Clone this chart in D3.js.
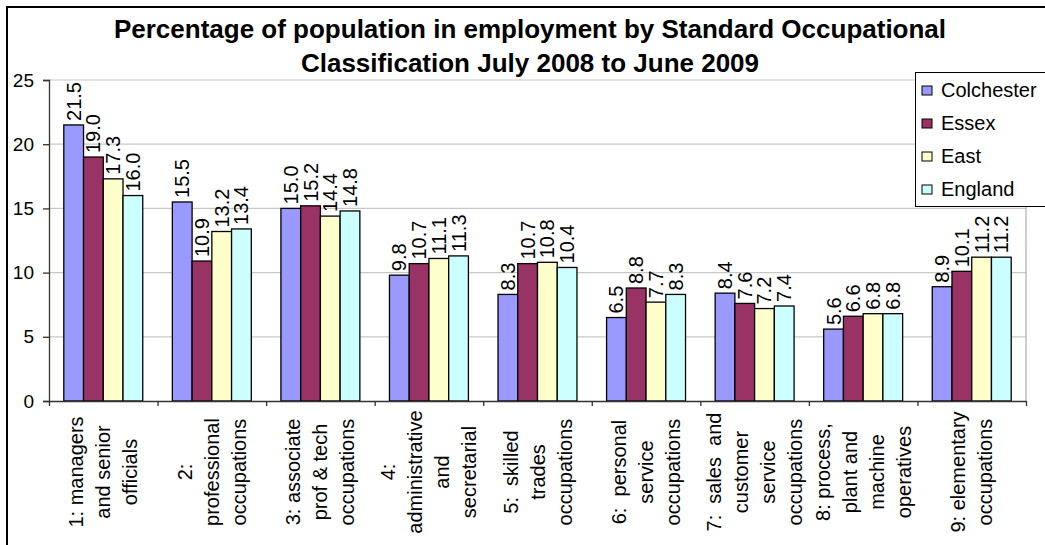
<!DOCTYPE html>
<html>
<head>
<meta charset="utf-8">
<script src="https://cdn.jsdelivr.net/npm/d3@7"></script>
<style>
  html, body { margin: 0; padding: 0; background: #fff; }
  svg { display: block; font-family: Arial, "Liberation Sans", sans-serif; }
</style>
</head>
<body>
<svg id="chart" width="1045" height="545"></svg>
<script>
// Occupational groups (line breaks marked with "|")
const categories = [
  "1: managers|and senior|officials",
  "2:|professional|occupations",
  "3: associate|prof & tech|occupations",
  "4:|administrative|and|secretarial",
  "5:  skilled|trades|occupations",
  "6:  personal|service|occupations",
  "7:  sales  and|customer|service|occupations",
  "8: process,|plant and|machine|operatives",
  "9: elementary|occupations"
];
const seriesNames = ["Colchester", "Essex", "East", "England"];
const seriesColors = ["#9999FF", "#993366", "#FFFFCC", "#CCFFFF"];
const colchester = [21.5, 15.5, 15.0, 9.8, 8.3, 6.5, 8.4, 5.6, 8.9];
const essex      = [19.0, 10.9, 15.2, 10.7, 10.7, 8.8, 7.6, 6.6, 10.1];
const east       = [17.3, 13.2, 14.4, 11.1, 10.8, 7.7, 7.2, 6.8, 11.2];
const england    = [16.0, 13.4, 14.8, 11.3, 10.4, 8.3, 7.4, 6.8, 11.2];
const yTicks = [0, 5, 10, 15, 20, 25];
const titleLines = [
  "Percentage of population in employment by Standard Occupational",
  "Classification July 2008 to June 2009"
];

const seriesValues = [colchester, essex, east, england];
const rows = categories.map((c, i) => ({
  cat: c,
  values: seriesNames.map((s, j) => ({ series: s, color: seriesColors[j], value: seriesValues[j][i] }))
}));

const svg = d3.select("#chart");
const plot = { left: 49, right: 1026, top: 80, bottom: 401 };

// outer chart frame
svg.append("rect")
  .attr("x", 7).attr("y", 7).attr("width", 1080).attr("height", 580)
  .attr("fill", "#fff").attr("stroke", "#000").attr("stroke-width", 2);

// title
svg.append("g").selectAll("text").data(titleLines).join("text")
  .attr("x", 530)
  .attr("y", (d, i) => 38 + i * 34)
  .attr("text-anchor", "middle")
  .attr("font-weight", "bold")
  .attr("font-size", 26)
  .attr("fill", "#000")
  .text(d => d);

const y = d3.scaleLinear().domain([0, 25]).range([plot.bottom, plot.top]);
const x0 = d3.scaleBand().domain(categories).range([plot.left, plot.right]).padding(0);
const bw = x0.bandwidth();
const gapHalf = bw * 0.75 / 5.5;
const x1 = d3.scaleBand().domain(seriesNames).range([gapHalf, bw - gapHalf]).padding(0);

// gridlines
svg.append("g").selectAll("line").data(yTicks.filter(t => t > 0)).join("line")
  .attr("x1", plot.left).attr("x2", plot.right)
  .attr("y1", d => y(d)).attr("y2", d => y(d))
  .attr("stroke", "#c8c8c8").attr("stroke-width", 1.2);

// right border of plot area
svg.append("line")
  .attr("x1", plot.right).attr("x2", plot.right)
  .attr("y1", plot.top).attr("y2", plot.bottom)
  .attr("stroke", "#b0b0b0").attr("stroke-width", 1.2);

// bars
const groups = svg.append("g").selectAll("g").data(rows).join("g")
  .attr("transform", d => `translate(${x0(d.cat)},0)`);

groups.selectAll("rect").data(d => d.values).join("rect")
  .attr("x", d => x1(d.series))
  .attr("y", d => y(d.value))
  .attr("width", x1.bandwidth())
  .attr("height", d => y(0) - y(d.value))
  .attr("fill", d => d.color)
  .attr("stroke", "#000").attr("stroke-width", 1.3);

// value labels
groups.selectAll("text").data(d => d.values).join("text")
  .attr("transform", d => `translate(${x1(d.series) + x1.bandwidth() / 2},${y(d.value) - 4}) rotate(-90)`)
  .attr("dominant-baseline", "central")
  .attr("font-size", 20)
  .attr("fill", "#000")
  .text(d => d3.format(".1f")(d.value));

// y axis
const yAxis = svg.append("g")
  .attr("transform", `translate(${plot.left},0)`)
  .call(d3.axisLeft(y).tickValues(yTicks).tickSize(6).tickPadding(9).tickFormat(d3.format("d")));
yAxis.select(".domain").attr("stroke", "#333").attr("stroke-width", 1.3);
yAxis.selectAll(".tick line").attr("stroke", "#333").attr("stroke-width", 1.3);
yAxis.selectAll(".tick text")
  .attr("font-size", 19).attr("fill", "#000")
  .attr("font-family", "Arial, 'Liberation Sans', sans-serif");

// x axis with ticks at category boundaries
const xb = d3.scaleLinear().domain([0, categories.length]).range([plot.left, plot.right]);
const xAxis = svg.append("g")
  .attr("transform", `translate(0,${plot.bottom})`)
  .call(d3.axisBottom(xb).tickValues(d3.range(0, categories.length + 1)).tickSize(5).tickSizeOuter(0).tickFormat(""));
xAxis.select(".domain").attr("stroke", "#333").attr("stroke-width", 1.3);
xAxis.selectAll(".tick line").attr("stroke", "#333").attr("stroke-width", 1.3);

// category labels, rotated, wrapped lines centred on each band
const catG = svg.append("g").selectAll("g").data(categories).join("g")
  .attr("transform", d => `translate(${x0(d) + bw / 2},472) rotate(-90)`);
catG.each(function (d) {
  const lines = d.split("|");
  d3.select(this).selectAll("text").data(lines).join("text")
    .attr("x", 0)
    .attr("y", (l, i) => (i - (lines.length - 1) / 2) * 27)
    .attr("text-anchor", "middle")
    .attr("dominant-baseline", "central")
    .attr("font-size", 20)
    .attr("fill", "#000")
    .style("white-space", "pre")
    .text(l => l);
});

// legend
const legend = svg.append("g");
legend.append("rect")
  .attr("x", 915.5).attr("y", 72.5).attr("width", 140).attr("height", 134)
  .attr("fill", "#fff").attr("stroke", "#000").attr("stroke-width", 1);
const items = legend.selectAll("g.item").data(seriesNames).join("g")
  .attr("class", "item")
  .attr("transform", (d, i) => `translate(922,${90 + i * 33})`);
items.append("rect")
  .attr("x", 0).attr("y", -4).attr("width", 10).attr("height", 9)
  .attr("fill", (d, i) => seriesColors[i])
  .attr("stroke", "#000").attr("stroke-width", 1);
items.append("text")
  .attr("x", 19).attr("y", 0)
  .attr("dominant-baseline", "central")
  .attr("font-size", 20)
  .attr("fill", "#000")
  .text(d => d);
</script>
</body>
</html>
